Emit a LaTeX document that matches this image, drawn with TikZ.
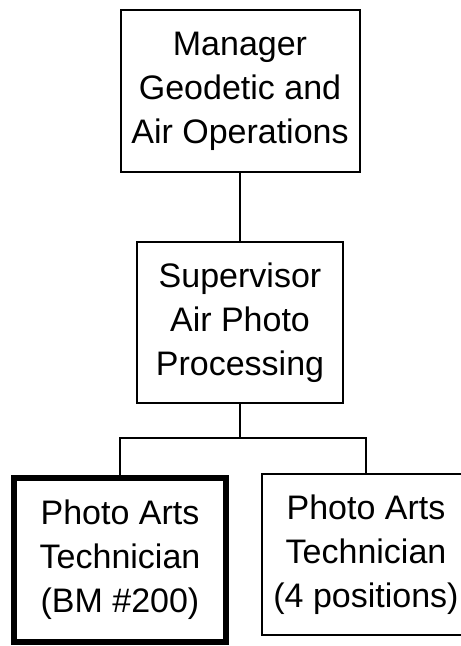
\documentclass[tikz,border=0pt]{standalone}
\usepackage{fontspec}
\setmainfont{Liberation Sans}

\begin{document}
\begin{tikzpicture}[x=1pt, y=-1pt, line width=2pt,
    post/.style={draw, align=center, inner sep=0pt, font=\fontsize{34}{44}\selectfont}]
    \useasboundingbox (0, 0) rectangle (461, 646);

    \node[post, minimum width=239, minimum height=162] (mgr) at (240, 91) {Manager\\Geodetic and\\Air Operations};
    \node[post, minimum width=206, minimum height=161] (sup) at (240, 322.5) {Supervisor\\Air Photo\\Processing};

    \node[post, line width=6pt, minimum width=212, minimum height=164] (tech) at (120, 560) {Photo Arts\\Technician\\(BM \#200)};
    \node[post, minimum width=208, minimum height=161] (crew) at (366, 554.5) {Photo Arts\\Technician\\(4 positions)};

    \coordinate (split) at (240, 438);
    \draw (mgr.south) -- (sup.north);
    \draw (sup.south) -- (split);
    \draw (tech.north) |- (split) -| (crew.north);
\end{tikzpicture}
\end{document}
